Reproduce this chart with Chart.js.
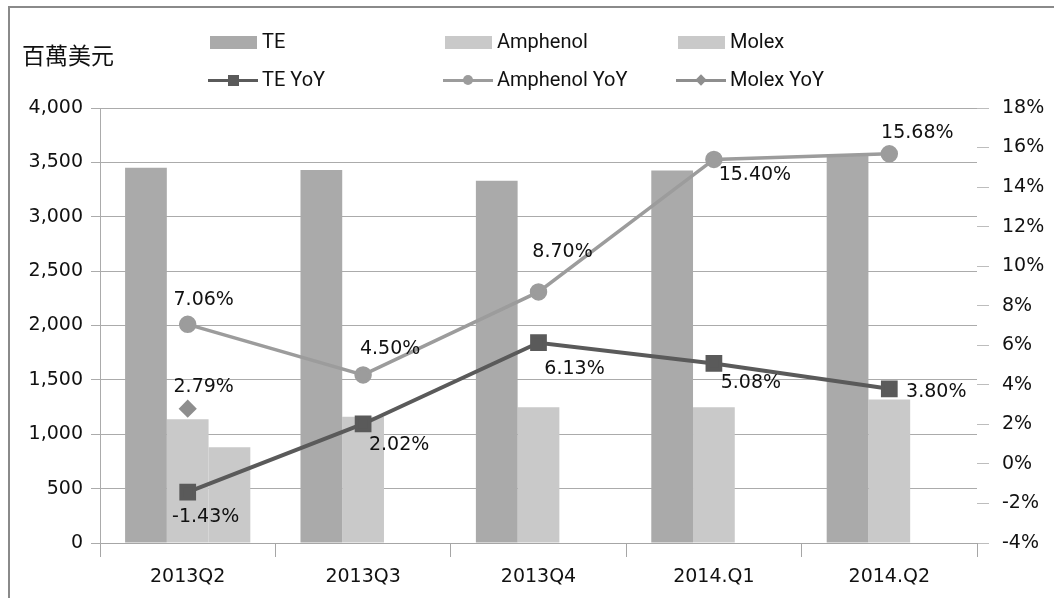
<!DOCTYPE html>
<html>
<head>
<meta charset="utf-8">
<script src="https://cdn.jsdelivr.net/npm/chart.js@4/dist/chart.umd.min.js"></script>
<style>
  html, body { margin: 0; padding: 0; background: #fff; overflow: hidden; }
  #wrap { position: relative; width: 1054px; height: 598px; overflow: hidden; }
  #frame { position: absolute; left: 8px; top: 6px; width: 1200px; height: 800px; border: 2px solid #8a8a8a; }
  #myChart { position: absolute; left: 0; top: 0; }
  #unit { position: absolute; left: 22px; top: 37px; font: 23px "Noto Sans CJK TC", sans-serif; color: #111; }
  .lg { position: absolute; font: 20px Roboto, sans-serif; color: #111; line-height: 24px; height: 24px; }
  .sw { position: absolute; }
</style>
</head>
<body>
<div id="wrap">
  <div id="frame"></div>
  <canvas id="myChart" width="1054" height="598"></canvas>
  <div id="unit">百萬美元</div>
  <div id="legend"></div>
</div>
<script>
/* Quarterly revenue (bars) and YoY growth (lines) for TE, Amphenol, Molex. */

const quarters = ['2013Q2', '2013Q3', '2013Q4', '2014.Q1', '2014.Q2'];

// revenue, million USD (left axis)
const teRevenue       = [3450, 3430, 3330, 3425, 3565];
const amphenolRevenue = [1138, 1162, 1248, 1248, 1320];
const molexRevenue    = [880, null, null, null, null];

// YoY growth, % (right axis)
const teYoY       = [-1.43, 2.02, 6.13, 5.08, 3.80];
const amphenolYoY = [7.06, 4.50, 8.70, 15.40, 15.68];
const molexYoY    = [2.79, null, null, null, null];

// axis ticks
const leftTicks  = {min: 0, max: 4000, step: 500};
const rightTicks = {min: -4, max: 18, step: 2};

const numFont = {family: 'DejaVu Sans', size: 19};

// where each value label sits relative to its point (px)
const labelShift = {
    'TE YoY':       [[18, 25], [36, 21], [36, 26], [37, 20], [47, 3]],
    'Amphenol YoY': [[16, -24], [27, -26], [24, -40], [41, 16], [28, -21]],
    'Molex YoY':    [[16, -22]]
};

const valueLabels = {   // draws the % labels next to the line points
    id: 'valueLabels',
    afterDatasetsDraw(chart) {
        const ctx = chart.ctx;
        ctx.save();
        ctx.font = '19px "DejaVu Sans"';
        ctx.fillStyle = '#111';
        ctx.textAlign = 'center';
        ctx.textBaseline = 'middle';
        chart.data.datasets.forEach((ds, i) => {
            if (ds.type !== 'line') return;
            const meta = chart.getDatasetMeta(i);
            meta.data.forEach((pt, j) => {
                const v = ds.data[j];
                if (v === null || v === undefined) return;
                const s = (labelShift[ds.label] || [])[j] || [0, -20];
                ctx.fillText(v.toFixed(2) + '%', pt.x + s[0], pt.y + s[1]);
            });
        });
        ctx.restore();
    }
};

const myChart = document.getElementById('myChart');

const chart = new Chart(myChart, {
    data: {
        labels: quarters,
        datasets: [
            {
                type: 'line', label: 'TE YoY', data: teYoY, yAxisID: 'y1',
                borderColor: '#5a5a5a', backgroundColor: '#5a5a5a', borderWidth: 4,
                pointStyle: 'rect', pointRadius: 9, pointHoverRadius: 9, order: 1
            },
            {
                type: 'line', label: 'Amphenol YoY', data: amphenolYoY, yAxisID: 'y1',
                borderColor: '#9c9c9c', backgroundColor: '#9c9c9c', borderWidth: 3.5,
                pointStyle: 'circle', pointRadius: 7, pointHoverRadius: 7, order: 1
            },
            {
                type: 'line', label: 'Molex YoY', data: molexYoY, yAxisID: 'y1',
                borderColor: '#8e8e8e', backgroundColor: '#8e8e8e', borderWidth: 3,
                pointStyle: 'rectRot', pointRadius: 7, pointHoverRadius: 7, order: 1
            },
            {
                type: 'bar', label: 'TE', data: teRevenue, yAxisID: 'y',
                backgroundColor: '#aaaaaa', order: 2
            },
            {
                type: 'bar', label: 'Amphenol', data: amphenolRevenue, yAxisID: 'y',
                backgroundColor: '#c9c9c9', order: 2
            },
            {
                type: 'bar', label: 'Molex', data: molexRevenue, yAxisID: 'y',
                backgroundColor: '#c9c9c9', order: 2
            }
        ]
    },
    options: {
        responsive: false,
        animation: false,
        datasets: {
            bar: { categoryPercentage: 0.714, barPercentage: 1.0 }
        },
        layout: { padding: { top: 108, left: 0, right: 0, bottom: 0 } },
        scales: {
            x: {
                grid: { offset: true, drawOnChartArea: false, tickLength: 14, color: '#a6a6a6' },
                border: { color: '#a6a6a6' },
                ticks: { font: numFont, color: '#111', padding: 9 },
                afterFit: (s) => { s.height = 55; }
            },
            y: {
                position: 'left',
                min: leftTicks.min, max: leftTicks.max,
                ticks: { stepSize: leftTicks.step, font: numFont, color: '#111', padding: 8 },
                grid: { color: '#ababab', tickLength: 9 },
                border: { color: '#ababab' },
                afterFit: (s) => { s.width = 100; }
            },
            y1: {
                position: 'right',
                min: rightTicks.min, max: rightTicks.max,
                ticks: {
                    stepSize: rightTicks.step, font: numFont, color: '#111', padding: 13,
                    callback: (v) => v + '%'
                },
                grid: { drawOnChartArea: false, tickLength: 12, color: '#bdbdbd' },
                border: { display: false },
                afterFit: (s) => { s.width = 77; }
            }
        },
        plugins: {
            legend: { display: false },
            tooltip: { enabled: false }
        }
    },
    plugins: [valueLabels]
});

// legend built by hand: two rows, three columns as in the original
const legendItems = [
    {text: 'TE',           col: 0, row: 0, kind: 'box',  color: '#aaaaaa'},
    {text: 'Amphenol',     col: 1, row: 0, kind: 'box',  color: '#c9c9c9'},
    {text: 'Molex',        col: 2, row: 0, kind: 'box',  color: '#c9c9c9'},
    {text: 'TE YoY',       col: 0, row: 1, kind: 'rect', color: '#5a5a5a'},
    {text: 'Amphenol YoY', col: 1, row: 1, kind: 'circ', color: '#9c9c9c'},
    {text: 'Molex YoY',    col: 2, row: 1, kind: 'diam', color: '#8e8e8e'}
];
const colX = [210, 445, 678];
const rowY = [42, 80];
const legend = document.getElementById('legend');
legendItems.forEach(it => {
    const x = colX[it.col], y = rowY[it.row];
    if (it.kind === 'box') {
        const b = document.createElement('div');
        b.className = 'sw';
        Object.assign(b.style, {left: x + 'px', top: (y - 6) + 'px', width: '47px', height: '13px', background: it.color});
        legend.appendChild(b);
    } else {
        const l = document.createElement('div');
        l.className = 'sw';
        Object.assign(l.style, {left: (x - 2) + 'px', top: (y - 1.5) + 'px', width: '50px', height: '3px', background: it.color});
        legend.appendChild(l);
        const m = document.createElement('div');
        m.className = 'sw';
        const sz = it.kind === 'rect' ? 11 : (it.kind === 'circ' ? 10 : 8);
        Object.assign(m.style, {left: (x + 23 - sz / 2) + 'px', top: (y - sz / 2) + 'px', width: sz + 'px', height: sz + 'px', background: it.color});
        if (it.kind === 'circ') m.style.borderRadius = '50%';
        if (it.kind === 'diam') m.style.transform = 'rotate(45deg)';
        legend.appendChild(m);
    }
    const t = document.createElement('div');
    t.className = 'lg';
    t.textContent = it.text;
    t.style.left = (x + 52) + 'px';
    t.style.top = (y - 13) + 'px';
    legend.appendChild(t);
});
</script>
</body>
</html>
